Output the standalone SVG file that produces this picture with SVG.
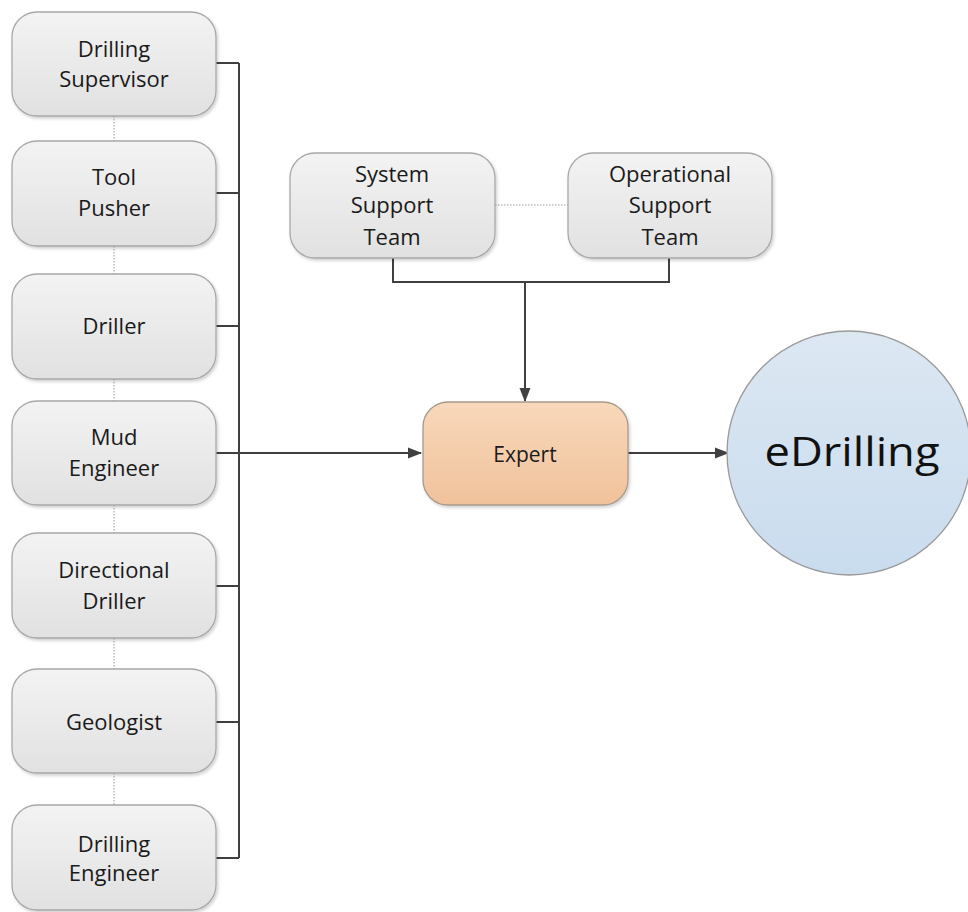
<svg xmlns="http://www.w3.org/2000/svg" width="968" height="912" viewBox="0 0 968 912">
<style>
.box{fill:url(#gGray);stroke:#a8a8a8;stroke-width:1.3;filter:url(#sh)}
.exp{fill:url(#gOr);stroke:#a89a8c;stroke-width:1.3;filter:url(#sh)}
.circ{fill:url(#gBl);stroke:#9a9a9a;stroke-width:1.3}
.t{font-family:"Open Sans","DejaVu Sans",sans-serif;font-size:22px;fill:#1a1a1a;text-anchor:middle}
.big{font-family:"Open Sans","DejaVu Sans",sans-serif;font-size:40px;fill:#111;text-anchor:middle}
.ln{fill:none;stroke:#404040;stroke-width:2}
.dot{fill:none;stroke:#9a9a9a;stroke-width:1;stroke-dasharray:1.5 1.5}
</style>
<defs>
<linearGradient id="gGray" x1="0" y1="0" x2="0" y2="1"><stop offset="0" stop-color="#f3f3f3"/><stop offset="1" stop-color="#e1e1e1"/></linearGradient>
<linearGradient id="gOr" x1="0" y1="0" x2="0" y2="1"><stop offset="0" stop-color="#f8d8bb"/><stop offset="1" stop-color="#f0c29b"/></linearGradient>
<linearGradient id="gBl" x1="0" y1="0" x2="0" y2="1"><stop offset="0" stop-color="#dce7f2"/><stop offset="1" stop-color="#c9dcee"/></linearGradient>
<filter id="sh" x="-10%" y="-10%" width="125%" height="130%"><feDropShadow dx="1.5" dy="2" stdDeviation="1.5" flood-color="#000" flood-opacity="0.18"/></filter>
<marker id="arr" markerWidth="14" markerHeight="12" refX="13" refY="6" orient="auto" markerUnits="userSpaceOnUse"><path d="M0,0.5 L14,6 L0,11.5 Z" fill="#404040"/></marker>
</defs>

<g id="connectors">
<path class="dot" d="M114,116 V141 M114,246 V274 M114,379 V401 M114,505 V533 M114,638 V669 M114,773 V805"/>
<path class="dot" d="M495,205 H568"/>
<path class="ln" d="M216,63 H239 M216,193 H239 M216,326 H239 M216,586 H239 M216,722 H239 M216,858 H239 M239,63 V858"/>
<path class="ln" d="M216,453 H421" marker-end="url(#arr)"/>
<path class="ln" d="M393,258 V282 H669 V258 M525,282 V401" marker-end="url(#arr)"/>
<path class="ln" d="M628,453 H728" marker-end="url(#arr)"/>
</g>

<g id="n-drilling-supervisor"><rect class="box" x="12" y="12" width="204" height="104" rx="25"/><text class="t" x="114" y="57">Drilling</text><text class="t" x="114" y="87">Supervisor</text></g>
<g id="n-tool-pusher"><rect class="box" x="12" y="141" width="204" height="105" rx="25"/><text class="t" x="114" y="185">Tool</text><text class="t" x="114" y="216">Pusher</text></g>
<g id="n-driller"><rect class="box" x="12" y="274" width="204" height="105" rx="25"/><text class="t" x="114" y="334">Driller</text></g>
<g id="n-mud-engineer"><rect class="box" x="12" y="401" width="204" height="104" rx="25"/><text class="t" x="114" y="445">Mud</text><text class="t" x="114" y="476">Engineer</text></g>
<g id="n-directional-driller"><rect class="box" x="12" y="533" width="204" height="105" rx="25"/><text class="t" x="114" y="578">Directional</text><text class="t" x="114" y="609">Driller</text></g>
<g id="n-geologist"><rect class="box" x="12" y="669" width="204" height="104" rx="25"/><text class="t" x="114" y="730">Geologist</text></g>
<g id="n-drilling-engineer"><rect class="box" x="12" y="805" width="204" height="105" rx="25"/><text class="t" x="114" y="852">Drilling</text><text class="t" x="114" y="881">Engineer</text></g>

<g id="n-system-support"><rect class="box" x="290" y="153" width="205" height="105" rx="25"/><text class="t" x="392" y="182">System</text><text class="t" x="392" y="213">Support</text><text class="t" x="392" y="245">Team</text></g>
<g id="n-operational-support"><rect class="box" x="568" y="153" width="204" height="105" rx="25"/><text class="t" x="670" y="182">Operational</text><text class="t" x="670" y="213">Support</text><text class="t" x="670" y="245">Team</text></g>

<g id="n-expert"><rect class="exp" x="423" y="402" width="205" height="103" rx="25"/><text class="t" x="525" y="462" style="font-size:21px">Expert</text></g>

<g id="n-edrilling"><circle class="circ" cx="849" cy="453" r="122"/><text class="big" x="852" y="466" textLength="175" lengthAdjust="spacingAndGlyphs">eDrilling</text></g>
</svg>
